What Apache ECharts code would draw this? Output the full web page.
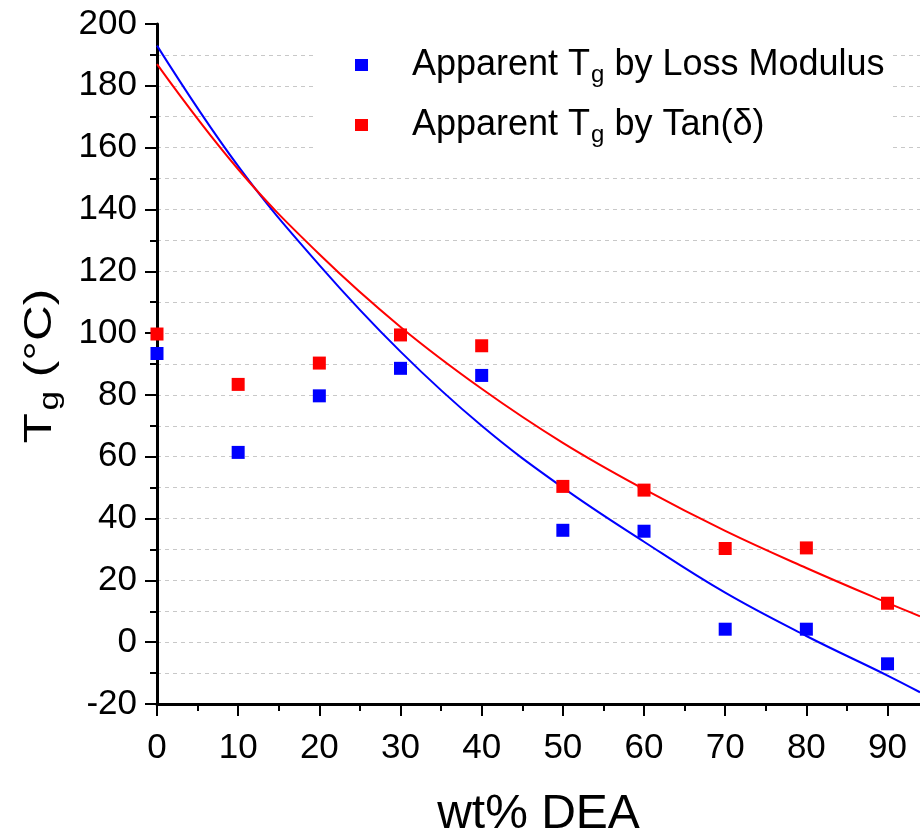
<!DOCTYPE html>
<html>
<head>
<meta charset="utf-8">
<script src="https://cdn.jsdelivr.net/npm/echarts@6/dist/echarts.min.js"></script>
<style>
html,body{margin:0;padding:0;background:#fff;}
#chart{width:920px;height:836px;}
</style>
</head>
<body>
<div id="chart"></div>
<script>
// ---- data ----
const wtDEA = [0, 10, 20, 30, 40, 50, 60, 70, 80, 90];
const tgLossModulus = [93.4, 61.4, 79.7, 88.6, 86.3, 36.2, 35.9, 4.2, 4.2, -7.0];
const tgTanDelta = [99.7, 83.4, 90.3, 99.4, 95.9, 50.4, 49.2, 30.3, 30.5, 12.6];
const fitX = [0, 10, 20, 30, 40, 50, 60, 70, 80, 90, 94];
const fitLossModulus = [193, 154, 122, 94, 70, 50, 32.5, 16, 2, -10.8, -16.2];
const fitTanDelta = [187, 153, 125.5, 102, 82, 64.5, 49.5, 36, 24, 12.7, 8.4];
const xMajorTicks = [0, 10, 20, 30, 40, 50, 60, 70, 80, 90];
const xMinorTicks = [5, 15, 25, 35, 45, 55, 65, 75, 85];

const FONT = '"Liberation Sans", Arial, sans-serif';
const pair = (xs, ys) => xs.map((x, i) => [x, ys[i]]);

const legendRich = {
  a0: {fontFamily: FONT, fontSize: 36, lineHeight: 36, color: '#000', verticalAlign: 'top', padding: [0, 0, 0, 39]},
  a: {fontFamily: FONT, fontSize: 36, lineHeight: 36, color: '#000', verticalAlign: 'top'},
  s: {fontFamily: FONT, fontSize: 24, lineHeight: 24, color: '#000', verticalAlign: 'top', padding: [16, 0, 0, 1]}
};
const legendLabels = {
  'Loss': '{a0|Apparent T}{s|g}{a| by Loss Modulus}',
  'Tan': '{a0|Apparent T}{s|g}{a| by Tan(δ)}'
};

const chart = echarts.init(document.getElementById('chart'), null, {renderer: 'canvas'});
const grid = {left: 157, top: 24, width: 763, height: 680, containLabel: false, outerBoundsMode: 'none'};

const option = {
  backgroundColor: '#fff',
  animation: false,
  grid: grid,
  legend: {
    orient: 'vertical',
    left: 315,
    top: 33,
    padding: [14, 6, 12, 40],
    itemGap: 20,
    itemWidth: 13,
    itemHeight: 12,
    backgroundColor: '#fff',
    data: [{name: 'Loss', icon: 'rect'}, {name: 'Tan', icon: 'rect'}],
    formatter: name => legendLabels[name],
    textStyle: {rich: legendRich}
  },
  xAxis: [{
    type: 'value', min: 0, max: 94, interval: 10, position: 'bottom',
    name: 'wt% DEA', nameLocation: 'middle', nameGap: 87,
    nameTextStyle: {fontFamily: FONT, fontSize: 48, color: '#000'},
    axisLine: {show: true, onZero: false, lineStyle: {color: '#000', width: 3}},
    axisTick: {show: true, inside: false, length: 12, customValues: xMajorTicks, lineStyle: {color: '#000', width: 2}},
    axisLabel: {show: true, margin: 27, customValues: xMajorTicks, fontFamily: FONT, fontSize: 35, color: '#000'},
    splitLine: {show: false}
  }, {
    type: 'value', min: 0, max: 94, interval: 10, position: 'bottom',
    axisLine: {show: false, onZero: false},
    axisTick: {show: true, inside: false, length: 7, customValues: xMinorTicks, lineStyle: {color: '#000', width: 2}},
    axisLabel: {show: false},
    splitLine: {show: false}
  }],
  yAxis: {
    type: 'value', min: -20, max: 200, interval: 20,
    axisLine: {show: true, onZero: false, lineStyle: {color: '#000', width: 3}},
    axisTick: {show: true, inside: false, length: 12, lineStyle: {color: '#000', width: 2}},
    minorTick: {show: true, splitNumber: 2, length: 7, lineStyle: {color: '#000', width: 2}},
    axisLabel: {margin: 20, fontFamily: FONT, fontSize: 35, color: '#000'},
    splitLine: {show: true, showMinLine: false, showMaxLine: false, lineStyle: {color: '#c8c8c8', width: 1, type: [4, 4]}},
    minorSplitLine: {show: true, lineStyle: {color: '#c8c8c8', width: 1, type: [4, 4]}}
  },
  graphic: [{
    type: 'text',
    x: 40.5, y: 366,
    rotation: Math.PI / 2,
    scaleX: 1.3,
    style: {
      text: '{t|T}{s|g}{t| (°C)}',
      align: 'center', verticalAlign: 'middle',
      rich: {
        t: {fontFamily: FONT, fontSize: 38, lineHeight: 38, color: '#000', verticalAlign: 'top'},
        s: {fontFamily: FONT, fontSize: 27, lineHeight: 27, color: '#000', verticalAlign: 'top', padding: [16, 0, 0, 2]}
      }
    }
  }],
  series: [{
    name: 'LossFit', type: 'line', xAxisIndex: 0, data: pair(fitX, fitLossModulus),
    smooth: 0.4, showSymbol: false, symbol: 'none', silent: true,
    lineStyle: {color: '#0000ff', width: 2}, z: 2
  }, {
    name: 'TanFit', type: 'line', xAxisIndex: 0, data: pair(fitX, fitTanDelta),
    smooth: 0.4, showSymbol: false, symbol: 'none', silent: true,
    lineStyle: {color: '#ff0000', width: 2}, z: 2
  }, {
    name: 'Loss', type: 'scatter', xAxisIndex: 0, data: pair(wtDEA, tgLossModulus),
    symbol: 'rect', symbolSize: 13, itemStyle: {color: '#0000ff', opacity: 1}, z: 3
  }, {
    name: 'Tan', type: 'scatter', xAxisIndex: 0, data: pair(wtDEA, tgTanDelta),
    symbol: 'rect', symbolSize: 13, itemStyle: {color: '#ff0000', opacity: 1}, z: 3
  }]
};
chart.setOption(option);
</script>
</body>
</html>
